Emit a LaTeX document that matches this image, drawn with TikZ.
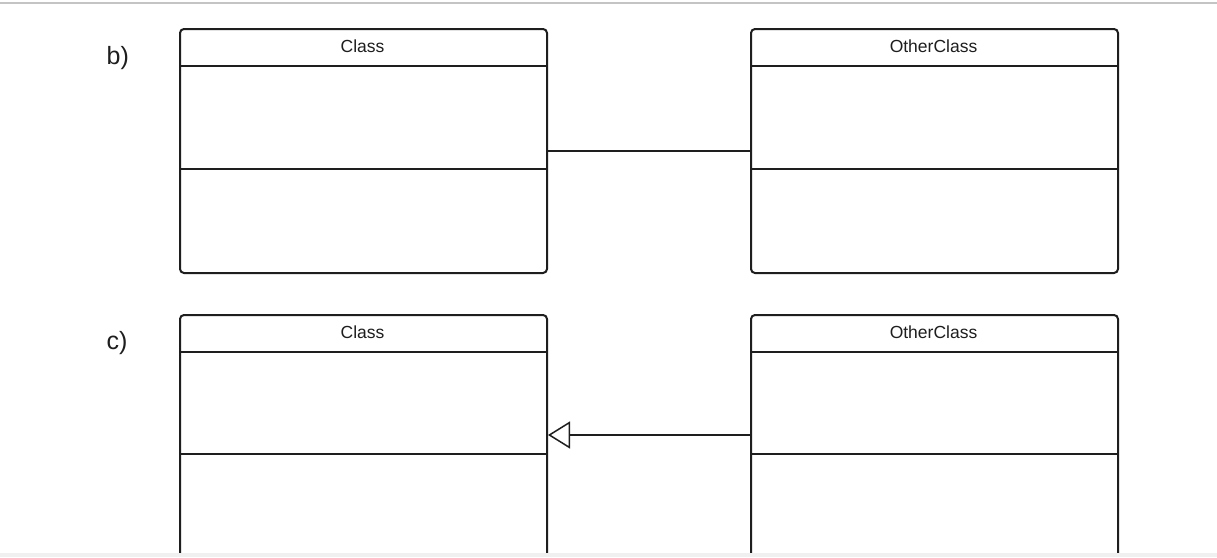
\documentclass[tikz,border=0pt]{standalone}
\usepackage{fontspec}
\setmainfont{Liberation Sans}
\usetikzlibrary{arrows.meta}
\definecolor{ink}{HTML}{1E1E1E}
\definecolor{rule}{HTML}{C4C4C4}
\definecolor{strip}{HTML}{F0F0F0}
\begin{document}
\begin{tikzpicture}[x=1pt,y=-1pt,
  classbox/.style={draw=ink, line width=2pt, rounded corners=4pt, minimum width=367pt, minimum height=244pt, inner sep=0pt, anchor=north west},
  title/.style={font=\fontsize{17.5}{20}\selectfont, text=ink, anchor=base, inner sep=0pt},
  lbl/.style={font=\fontsize{25}{28}\selectfont, text=ink, anchor=base west, inner sep=0pt},
  conn/.style={draw=ink, line width=1.5pt},
  sepline/.style={draw=ink, line width=1.6pt}]
\useasboundingbox (0,0) rectangle (1217,557);
\fill[white] (0,0) rectangle (1217,557);
\draw[rule, line width=1.5pt] (0,3) -- (1217,3);
\begin{scope}
\clip (0,5) rectangle (1217,553);
% b)
\node[lbl] (lb) at (106.5,64) {b)};
\node[classbox] (b1) at (179,28) {};
\node[classbox] (b2) at (750,28) {};
\node[title] (tb1) at (362.5,52) {Class};
\node[title] (tb2) at (933.5,52) {OtherClass};
\draw[sepline] (b1.west |- 0,66) -- (b1.east |- 0,66);
\draw[sepline] (b1.west |- 0,169) -- (b1.east |- 0,169);
\draw[sepline] (b2.west |- 0,66) -- (b2.east |- 0,66);
\draw[sepline] (b2.west |- 0,169) -- (b2.east |- 0,169);
\draw[conn] (b1.east) -- (b2.west);
% c)
\node[lbl] (lc) at (106.5,349) {c)};
\node[classbox] (c1) at (179,314) {};
\node[classbox] (c2) at (750,314) {};
\node[title] (tc1) at (362.5,338) {Class};
\node[title] (tc2) at (933.5,338) {OtherClass};
\draw[sepline, line width=2pt] (c1.west |- 0,352) -- (c1.east |- 0,352);
\draw[sepline] (c1.west |- 0,454) -- (c1.east |- 0,454);
\draw[sepline, line width=2pt] (c2.west |- 0,352) -- (c2.east |- 0,352);
\draw[sepline] (c2.west |- 0,454) -- (c2.east |- 0,454);
\draw[conn, -{Triangle[open, length=22pt, width=27pt, fill=white]}] (c2.west |- 0,435) -- (c1.east |- 0,435);
\end{scope}
\fill[strip] (0,553) rectangle (1217,557);
\end{tikzpicture}
\end{document}
